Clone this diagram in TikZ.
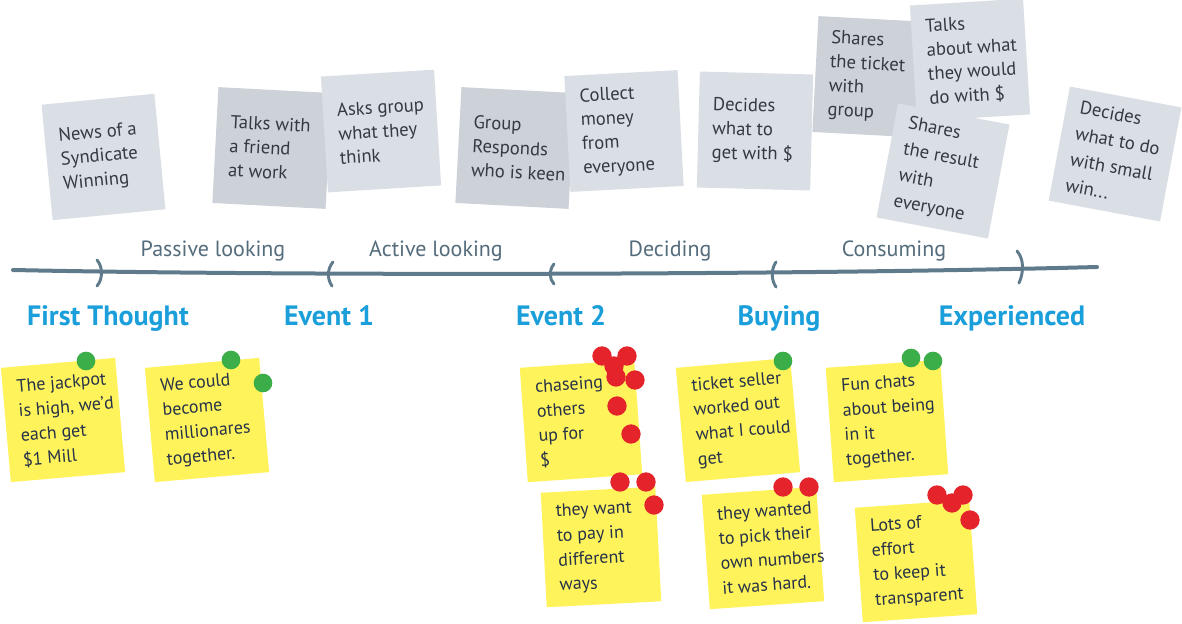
\documentclass[tikz,border=0pt]{standalone}
\usepackage{fontspec}
\setmainfont{PT Sans}
\usetikzlibrary{calc}
\definecolor{gnote}{RGB}{218,223,229}
\definecolor{gnoted}{RGB}{205,210,216}
\definecolor{ynote}{RGB}{255,243,92}
\definecolor{gtext}{RGB}{52,57,66}
\definecolor{ytextc}{RGB}{38,50,72}
\definecolor{pingreen}{RGB}{59,174,73}
\definecolor{pinred}{RGB}{228,35,43}
\definecolor{tlcol}{RGB}{94,122,139}
\definecolor{labcol}{RGB}{84,108,124}
\definecolor{headcol}{RGB}{27,159,219}
\tikzset{
 gn/.style={fill=gnote, minimum width=85pt, minimum height=87pt, inner sep=0pt, draw=none},
 gnd/.style={gn, fill=gnoted},
 yn/.style={fill=ynote, minimum width=86pt, minimum height=86pt, inner sep=0pt, draw=none},
 ntext/.style={anchor=west, align=left, inner sep=0pt, font=\fontsize{14}{18}\selectfont, text=gtext},
 ntextw/.style={ntext, font=\fontsize{14}{19.8}\selectfont},
 ytext/.style={ntext, text=ytextc, font=\fontsize{13.5}{18.5}\selectfont},
 dotg/.style={circle, fill=pingreen, minimum size=14pt, inner sep=0pt, draw=none},
 dotr/.style={circle, fill=pinred, minimum size=14.5pt, inner sep=0pt, draw=none},
 tl/.style={line width=3pt, draw=tlcol, line cap=round},
 tickmark/.style={line width=2.2pt, draw=tlcol, line cap=round},
 phase/.style={anchor=base, text=labcol, font=\fontsize{16.5}{18}\selectfont},
 head/.style={anchor=base, text=headcol, font=\bfseries\fontsize{21}{23}\selectfont},
}
\newcommand\mknote[7]{%
 \node[#5, rotate=#4] (#1) at (#2,#3) {};
 \node[#6, rotate=#4] (#1t) at ($(#1.west)!10.5pt!(#1.center)$) {#7};
}
\begin{document}
\begin{tikzpicture}[x=0.75pt,y=-0.75pt]
\useasboundingbox[fill=white] (0,0) rectangle (1182,624);

% ---- top (grey) notes ----
\mknote{news}{103.5}{157}{5.5}{gn}{ntext}{News of a\\Syndicate\\Winning}
\mknote{talks}{272}{148}{-3}{gnd}{ntext}{Talks with\\a friend\\at work}
\mknote{asks}{381}{131}{3.5}{gn}{ntext}{Asks group\\what they\\think}
\mknote{group}{515}{148}{-3}{gnd}{ntext}{Group\\Responds\\who is keen}
\mknote{collect}{624}{131}{3}{gn}{ntext}{Collect\\money\\from\\everyone}
\mknote{decA}{755}{131}{-1.5}{gn}{ntext}{Decides\\what to\\get with \$}
\mknote{ticket}{872}{77}{-3}{gnd}{ntext}{Shares\\the ticket\\with\\group}
\mknote{about}{970}{60}{3.5}{gn}{ntext}{Talks\\about what\\they would\\do with \$}
\mknote{result}{943}{171}{-10.7}{gn}{ntextw}{Shares\\the result\\with\\everyone}
\mknote{decB}{1115}{154}{-10.6}{gn}{ntextw}{Decides\\what to do\\with small\\win...}

% ---- timeline ----
\coordinate (tls) at (13,270);
\coordinate (tle) at (1097,267);
\draw[tl] (tls) .. controls (300,276) and (800,275) .. (tle);
\draw[tickmark] (97,260) .. controls (103,267) and (103,279) .. (97,286);
\draw[tickmark] (333,262) .. controls (327,269) and (327,279) .. (332,286);
\draw[tickmark] (554,264) .. controls (549,270) and (549,279) .. (554,284);
\draw[tickmark] (776,262) .. controls (771,269) and (771,280) .. (776,287);
\draw[tickmark] (1017,251) .. controls (1024,259) and (1024,272) .. (1019,283);

\node[phase] (p1) at (213,257) {Passive looking};
\node[phase] (p2) at (436,257) {Active looking};
\node[phase] (p3) at (670,257) {Deciding};
\node[phase] (p4) at (894,257) {Consuming};

\node[head] (h1) at (108,325) {First Thought};
\node[head] (h2) at (329,325) {Event 1};
\node[head] (h3) at (561,325) {Event 2};
\node[head] (h4) at (779,325) {Buying};
\node[head] (h5) at (1012,325) {Experienced};

% ---- bottom (yellow) notes ----
\mknote{y1}{63}{420}{5}{yn}{ytext}{The jackpot\\is high, we’d\\each get\\\$1 Mill}
\mknote{y2}{207}{420}{5}{yn}{ytext}{We could\\become\\millionares\\together.}
\mknote{y3}{581}{421}{4}{yn}{ytext}{chaseing\\others\\up for\\\$}
\mknote{y4}{601}{547}{3}{yn}{ytext}{they want\\to pay in\\different\\ways}
\mknote{y5}{738}{420}{5}{yn}{ytext}{ticket seller\\worked out\\what I could\\get}
\mknote{y6}{763}{548}{4}{yn}{ytext}{they wanted\\to pick their\\own numbers\\it was hard.}
\mknote{y7}{887}{421}{4}{yn}{ytext}{Fun chats\\about being\\in it\\together.}
\mknote{y8}{916}{561}{4}{yn}{ytext}{Lots of\\effort\\to keep it\\transparent}

% ---- dots ----
\node[dotg] (g1) at (86,361) {};
\node[dotg] (g2) at (231,360) {};
\node[dotg] (g3) at (263,383) {};
\node[dotg] (g4) at (783,361) {};
\node[dotg] (g5) at (911,358) {};
\node[dotg] (g6) at (933,361) {};

\node[dotr] (r1) at (602,356) {};
\node[dotr] (r2) at (627,356) {};
\node[dotr] (r3) at (614,366) {};
\node[dotr] (r4) at (616,377) {};
\node[dotr] (r5) at (635,380) {};
\node[dotr] (r6) at (617,406) {};
\node[dotr] (r7) at (631,434) {};
\node[dotr] (r8) at (620,482) {};
\node[dotr] (r9) at (646,482) {};
\node[dotr] (r10) at (654,505) {};
\node[dotr] (r11) at (783,487) {};
\node[dotr] (r12) at (809,487) {};
\node[dotr] (r13) at (937,495) {};
\node[dotr] (r14) at (952,503) {};
\node[dotr] (r15) at (963,495) {};
\node[dotr] (r16) at (970,520) {};
\end{tikzpicture}
\end{document}
